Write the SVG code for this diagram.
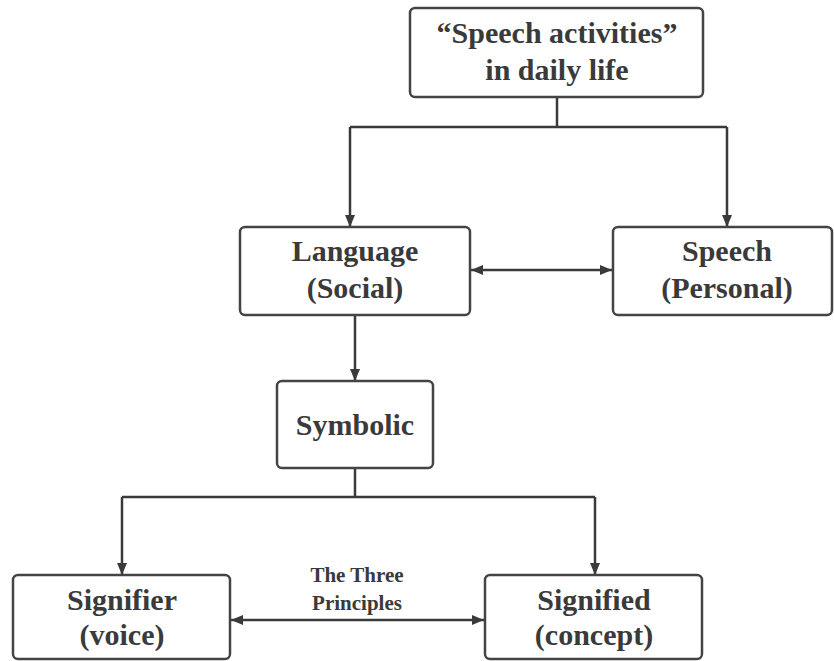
<svg xmlns="http://www.w3.org/2000/svg" width="834" height="661" viewBox="0 0 834 661">
<defs>
<style>
.box{fill:#fff;stroke:#444;stroke-width:2.5}
.c{fill:none;stroke:#3a3a3a;stroke-width:2.5}
</style>
<marker id="ah" viewBox="0 0 12 10" refX="12" refY="5" markerWidth="12" markerHeight="10" markerUnits="userSpaceOnUse" orient="auto-start-reverse">
<path d="M0,0 L12,5 L0,10 Z" fill="#3a3a3a"/>
</marker>
</defs>
<rect width="834" height="661" fill="#fff"/>
<g id="connectors">
<path class="c" d="M557,97 V127"/>
<path class="c" d="M350,127 H727"/>
<path class="c" d="M350,127 V227" marker-end="url(#ah)"/>
<path class="c" d="M727,127 V227" marker-end="url(#ah)"/>
<path class="c" d="M471,270 H612" marker-start="url(#ah)" marker-end="url(#ah)"/>
<path class="c" d="M355,315 V381" marker-end="url(#ah)"/>
<path class="c" d="M355,468 V497"/>
<path class="c" d="M122,497 H595"/>
<path class="c" d="M122,497 V575" marker-end="url(#ah)"/>
<path class="c" d="M595,497 V575" marker-end="url(#ah)"/>
<path class="c" d="M231,620 H484" marker-start="url(#ah)" marker-end="url(#ah)"/>
<text x="357" y="582" font-family="Liberation Serif" font-weight="bold" font-size="21" fill="#3a3a3a" text-anchor="middle">The Three</text>
<text x="357" y="610" font-family="Liberation Serif" font-weight="bold" font-size="21" fill="#3a3a3a" text-anchor="middle">Principles</text>
</g>
<g id="n1">
<rect class="box" x="410" y="8" width="293" height="89" rx="5"/>
<text x="557" y="43" font-family="Liberation Serif" font-weight="bold" font-size="30" fill="#3a3a3a" text-anchor="middle">“Speech activities”</text>
<text x="557" y="80" font-family="Liberation Serif" font-weight="bold" font-size="30" fill="#3a3a3a" text-anchor="middle">in daily life</text>
</g>
<g id="n2">
<rect class="box" x="240" y="227" width="230" height="88" rx="5"/>
<text x="355" y="261" font-family="Liberation Serif" font-weight="bold" font-size="30" fill="#3a3a3a" text-anchor="middle">Language</text>
<text x="355" y="298" font-family="Liberation Serif" font-weight="bold" font-size="30" fill="#3a3a3a" text-anchor="middle">(Social)</text>
</g>
<g id="n3">
<rect class="box" x="613" y="227" width="219" height="88" rx="5"/>
<text x="727" y="261" font-family="Liberation Serif" font-weight="bold" font-size="30" fill="#3a3a3a" text-anchor="middle">Speech</text>
<text x="727" y="298" font-family="Liberation Serif" font-weight="bold" font-size="30" fill="#3a3a3a" text-anchor="middle">(Personal)</text>
</g>
<g id="n4">
<rect class="box" x="277" y="381" width="156" height="87" rx="5"/>
<text x="355" y="435" font-family="Liberation Serif" font-weight="bold" font-size="30" fill="#3a3a3a" text-anchor="middle">Symbolic</text>
</g>
<g id="n5">
<rect class="box" x="13" y="575" width="217" height="84" rx="5"/>
<text x="122" y="610" font-family="Liberation Serif" font-weight="bold" font-size="30" fill="#3a3a3a" text-anchor="middle">Signifier</text>
<text x="122" y="645" font-family="Liberation Serif" font-weight="bold" font-size="30" fill="#3a3a3a" text-anchor="middle">(voice)</text>
</g>
<g id="n6">
<rect class="box" x="485" y="575" width="217" height="84" rx="5"/>
<text x="594" y="610" font-family="Liberation Serif" font-weight="bold" font-size="30" fill="#3a3a3a" text-anchor="middle">Signified</text>
<text x="594" y="645" font-family="Liberation Serif" font-weight="bold" font-size="30" fill="#3a3a3a" text-anchor="middle">(concept)</text>
</g>
</svg>
